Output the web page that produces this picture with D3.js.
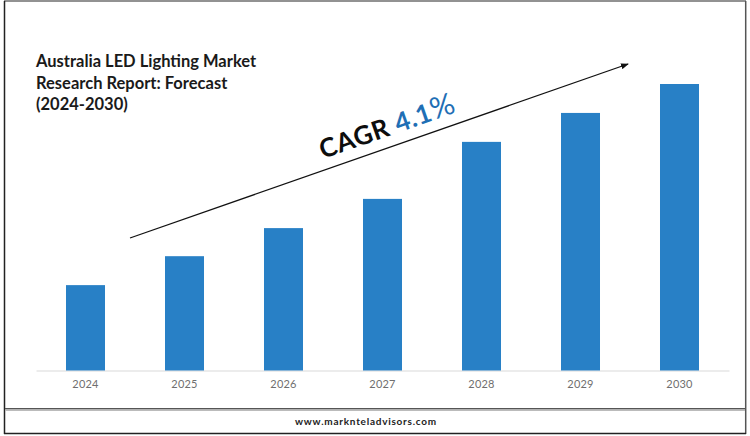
<!DOCTYPE html>
<html>
<head>
<meta charset="utf-8">
<script src="https://cdn.jsdelivr.net/npm/d3@7"></script>
<style>
  html, body { margin: 0; padding: 0; background: #fff; }
  svg { display: block; }
  text { font-family: Lato, "Open Sans", sans-serif; }
</style>
</head>
<body>
<svg id="chart" width="750" height="436"></svg>
<script>
"use strict";

// Bar heights, as an index where 2030 = 100 (the chart has no value axis)
let years = ["2024", "2025", "2026", "2027", "2028", "2029", "2030"];
let values = [29.8, 39.9, 49.7, 59.9, 79.8, 89.9, 100];
let titleLines = ["Australia LED Lighting Market", "Research Report: Forecast", "(2024-2030)"];

let svg = d3.select("#chart");

let xScale = d3.scaleBand()
  .domain(years)
  .range([36, 729])
  .paddingInner(0.606)
  .paddingOuter(0.303);

let yScale = d3.scaleLinear()
  .domain([0, 100])
  .range([370.5, 84]);

// white page with the frame around it
svg.append("rect").attr("width", 750).attr("height", 436).attr("fill", "#fff");

svg.append("line").attr("x1", 4).attr("y1", 1).attr("x2", 746).attr("y2", 1)
  .attr("stroke", "#6e6e6e").attr("stroke-width", 1.5);
svg.append("line").attr("x1", 4.5).attr("y1", 1).attr("x2", 4.5).attr("y2", 434)
  .attr("stroke", "#222").attr("stroke-width", 1.5);
svg.append("line").attr("x1", 745.7).attr("y1", 1).attr("x2", 745.7).attr("y2", 434)
  .attr("stroke", "#555").attr("stroke-width", 1.5);
svg.append("line").attr("x1", 4).attr("y1", 433.5).attr("x2", 746).attr("y2", 433.5)
  .attr("stroke", "#222").attr("stroke-width", 1.5);

// divider above the footer
svg.append("rect").attr("x", 5).attr("y", 408).attr("width", 740).attr("height", 1.5)
  .attr("fill", "#555");
svg.append("rect").attr("x", 5).attr("y", 409.5).attr("width", 740).attr("height", 1.5)
  .attr("fill", "#bbb");

// axis
let axis = svg.append("g")
  .attr("transform", `translate(0, ${yScale(0)})`)
  .call(d3.axisBottom(xScale).tickSize(0).tickPadding(10));
axis.select(".domain").attr("stroke", "#e6e6e6").attr("stroke-width", 1.5);
axis.selectAll("text")
  .attr("fill", "#6f6f6f")
  .style("font-family", "Lato, sans-serif")
  .style("font-size", "11px")
  .style("letter-spacing", "0.2px");

// bars
svg.selectAll("rect.bar")
  .data(values)
  .enter()
  .append("rect")
  .attr("class", "bar")
  .attr("x", (d, i) => xScale(years[i]))
  .attr("y", d => yScale(d))
  .attr("width", xScale.bandwidth())
  .attr("height", d => yScale(0) - yScale(d))
  .attr("fill", "#2880c6");

// title
svg.selectAll("text.title")
  .data(titleLines)
  .enter()
  .append("text")
  .attr("class", "title")
  .attr("x", 36)
  .attr("y", (d, i) => 67 + i * 21.5)
  .attr("fill", "#1a1a1a")
  .style("font-size", "16.5px")
  .style("font-weight", 700)
  .text(d => d);

// CAGR arrow
svg.append("defs").append("marker")
  .attr("id", "head")
  .attr("viewBox", "0 0 8 6")
  .attr("refX", 7)
  .attr("refY", 3)
  .attr("markerWidth", 8)
  .attr("markerHeight", 6)
  .attr("markerUnits", "userSpaceOnUse")
  .attr("orient", "auto")
  .append("path")
  .attr("d", "M0,0 L8,3 L0,6 Z")
  .attr("fill", "#111");

svg.append("line")
  .attr("x1", 130).attr("y1", 238)
  .attr("x2", 628).attr("y2", 64)
  .attr("stroke", "#111")
  .attr("stroke-width", 1.3)
  .attr("marker-end", "url(#head)");

// CAGR label follows the arrow's slope
let label = svg.append("text")
  .attr("transform", "translate(323, 159) rotate(-19.3)")
  .style("font-size", "26px")
  .style("font-weight", 700)
  .style("letter-spacing", "0.6px");
label.append("tspan").attr("fill", "#0d0d0d").text("CAGR ");
label.append("tspan").attr("fill", "#1f6fb5").text("4.1");
label.append("tspan").attr("fill", "#1f6fb5").style("font-weight", 400).style("font-size", "30px").text("%");

// footer
svg.append("text")
  .attr("x", 366)
  .attr("y", 425)
  .attr("text-anchor", "middle")
  .attr("fill", "#222")
  .style("font-size", "10px")
  .style("font-weight", 700)
  .style("letter-spacing", "0.75px")
  .text("www.marknteladvisors.com");
</script>
</body>
</html>
